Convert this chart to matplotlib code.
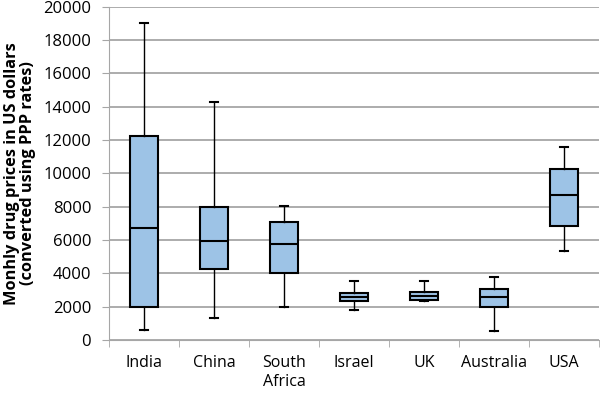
import matplotlib.pyplot as plt

# Données (min, Q1, médiane, Q3, max)
countries = ["India", "China", "South\nAfrica", "Israel", "UK", "Australia", "USA"]
whisker_low = [600, 1300, 1950, 1800, 2320, 520, 5320]
q1 = [2000, 4280, 4000, 2360, 2420, 2000, 6820]
median = [6700, 5950, 5750, 2600, 2640, 2560, 8680]
q3 = [12220, 8000, 7080, 2840, 2860, 3080, 10280]
whisker_high = [19000, 14250, 8060, 3520, 3560, 3800, 11600]

plt.rcParams['font.family'] = ['Open Sans', 'DejaVu Sans']

fig = plt.figure(figsize=(6, 3.93), dpi=100)
ax = fig.add_axes([0.182, 0.135, 0.816, 0.848])

stats = []
for i, name in enumerate(countries):
    stats.append({
        "label": name,
        "whislo": whisker_low[i],
        "q1": q1[i],
        "med": median[i],
        "q3": q3[i],
        "whishi": whisker_high[i],
        "fliers": [],
    })

pos = list(range(1, len(countries) + 1))
ax.bxp(stats, positions=pos, widths=0.4, capwidths=0.12, patch_artist=True,
       showfliers=False,
       boxprops=dict(facecolor="#9DC3E6", edgecolor="black", linewidth=1.5),
       medianprops=dict(color="black", linewidth=1.5),
       whiskerprops=dict(color="black", linewidth=1),
       capprops=dict(color="black", linewidth=1.5))

ax.set_xlim(0.5, len(countries) + 0.5)
ax.set_ylim(0, 20000)
ax.set_yticks(range(0, 20001, 2000))
ax.yaxis.grid(True, color="#A6A6A6", linewidth=1.3)
ax.set_axisbelow(True)

# Ticks de l'axe x entre les catégories
ax.set_xticks(pos)
ax.set_xticklabels(countries, fontsize=11.5, linespacing=1.2)
ax.set_xticks([p + 0.5 for p in [0] + pos], minor=True)
ax.tick_params(axis="x", which="major", length=0, pad=11)
ax.tick_params(axis="x", which="minor", length=5, color="#A6A6A6")
ax.tick_params(axis="y", length=5, color="#A6A6A6", labelsize=12, pad=8)

for side in ["top", "right"]:
    ax.spines[side].set_visible(False)
ax.spines["left"].set_color("#A6A6A6")
ax.spines["bottom"].set_color("#A6A6A6")

ax.set_ylabel("Monhly drug prices in US dollars\n(converted using PPP rates)",
              fontsize=11.8, fontweight="bold", labelpad=5, linespacing=1.0)

fig.savefig("out.png", dpi=100)
